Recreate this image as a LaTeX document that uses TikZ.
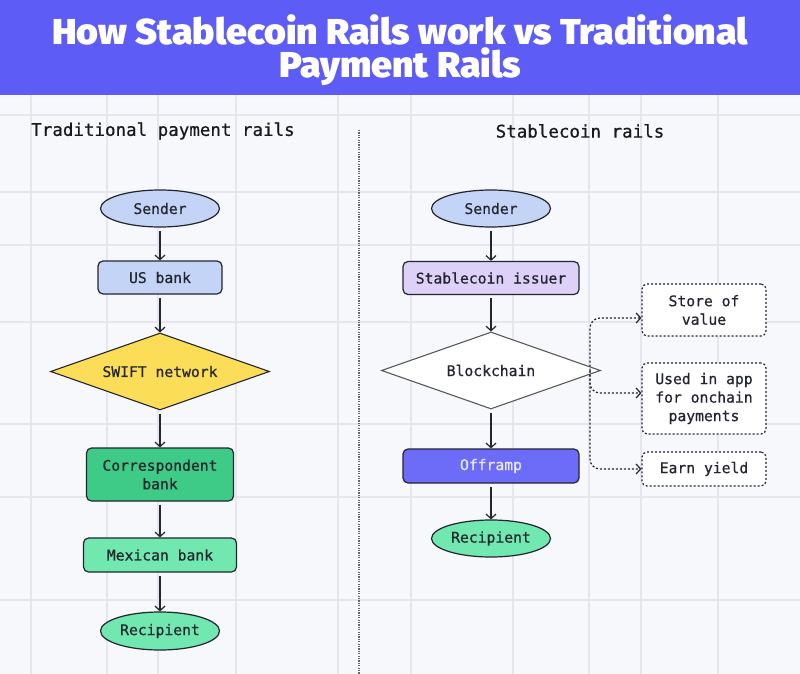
\documentclass[tikz,border=0pt]{standalone}
\usepackage{fontspec}
\usetikzlibrary{shapes.geometric,positioning,arrows.meta}
\setmonofont{DejaVu Sans Mono}[FakeBold=0.6]
\IfFontExistsTF{Fira Sans Black}{\newfontfamily\titlefont{Fira Sans Black}[FakeStretch=1.04]}{\newfontfamily\titlefont{Fira Sans}[UprightFont={* Bold}, FakeBold=1.5, FakeStretch=1.04]}
\definecolor{hdrblue}{HTML}{5E5CF6}
\definecolor{paper}{HTML}{F7F8FC}
\definecolor{gridgray}{HTML}{E6E7EE}
\definecolor{inkdark}{HTML}{23252F}
\definecolor{sendblue}{HTML}{C4D4F6}
\definecolor{issuerlilac}{HTML}{DDD1F8}
\definecolor{swiftyellow}{HTML}{FCDD58}
\definecolor{corrgreen}{HTML}{3ECB87}
\definecolor{mintgreen}{HTML}{70E8B0}
\definecolor{offblue}{HTML}{6D6CF8}
\definecolor{offtext}{HTML}{E8E9FF}
\begin{document}
\begin{tikzpicture}[x=1pt,y=-1pt,
		every node/.style={font=\ttfamily\fontsize{14.7}{18.5}\selectfont, text=inkdark},
		box/.style={draw=inkdark, line width=1.2pt, rounded corners=5pt, align=center, inner sep=0pt},
		oval/.style={ellipse, draw=inkdark, line width=1.2pt, minimum width=119pt, minimum height=37pt, inner sep=0pt},
		rhomb/.style={diamond, aspect=2.84, line width=1.1pt, minimum width=219pt, minimum height=77pt, inner sep=0pt},
		extra/.style={draw=inkdark, dash pattern=on 2pt off 2pt, line width=1.2pt, rounded corners=5pt, minimum width=124pt, fill=white, align=center, inner sep=0pt},
		flow/.style={-{Straight Barb[length=4.5pt,width=10pt]}, draw=inkdark, line width=1.2pt, shorten <=3pt},
		side/.style={-{Straight Barb[length=4.5pt,width=10pt]}, draw=inkdark, dash pattern=on 2pt off 2pt, line width=1.2pt, rounded corners=10pt},
		heading/.style={font=\ttfamily\fontsize{17.5}{20}\selectfont, text=black!90},
	]
		\useasboundingbox (0,0) rectangle (800,674);
		% background and grid
		\fill[paper] (0,0) rectangle (800,674);
		\foreach \gx in {31,107,158,236,338,411,513,589,641,718}
			\draw[gridgray, line width=2.2pt] (\gx,95) -- (\gx,674);
		\foreach \gy in {115,192,245,322,424,497,600}
			\draw[gridgray, line width=2.2pt] (0,\gy) -- (800,\gy);
		% header
		\fill[hdrblue] (0,0) rectangle (800,95);
		\node[font=\titlefont\fontsize{36}{33}\selectfont, text=white, align=center] (title) at (400,50) {How Stablecoin Rails work vs Traditional\\Payment Rails};
		\node[heading] (lefthead) at (163,131) {Traditional payment rails};
		\node[heading] (righthead) at (580,131) {Stablecoin rails};
		% divider
		\coordinate (divtop) at (359,130);
		\coordinate (divbot) at (359,674);
		\draw[black!60, line width=1.2pt, dash pattern=on 1.2pt off 1.2pt] (divtop) -- (divbot);
		% traditional rails
		\node[oval, fill=sendblue] (lsend) at (160,208.5) {Sender};
		\node[box, fill=sendblue, minimum width=124pt, minimum height=33pt] (usbank) at (160,277.5) {US bank};
		\node[rhomb, draw=inkdark, fill=swiftyellow] (swift) at (160,371.5) {SWIFT network};
		\node[box, fill=corrgreen, minimum width=147pt, minimum height=53pt] (corr) at (160,474.5) {Correspondent\\bank};
		\node[box, fill=mintgreen, minimum width=153pt, minimum height=34pt] (mexbank) at (160,555) {Mexican bank};
		\node[oval, fill=mintgreen, minimum height=38pt] (lrecip) at (160,631) {Recipient};
		\draw[flow] (lsend) -- (usbank);
		\draw[flow] (usbank) -- (swift);
		\draw[flow] (swift) -- (corr);
		\draw[flow] (corr) -- (mexbank);
		\draw[flow] (mexbank) -- (lrecip);
		% stablecoin rails
		\node[oval, fill=sendblue] (rsend) at (491,208.5) {Sender};
		\node[box, fill=issuerlilac, minimum width=176pt, minimum height=33pt] (issuer) at (491,278) {Stablecoin issuer};
		\node[rhomb, draw=black!65, fill=white] (chain) at (491,370.5) {Blockchain};
		\node[box, fill=offblue, text=offtext, minimum width=176pt, minimum height=34pt] (offramp) at (491,466) {Offramp};
		\node[oval, fill=mintgreen] (rrecip) at (491,538.5) {Recipient};
		\draw[flow] (rsend) -- (issuer);
		\draw[flow] (issuer) -- (chain);
		\draw[flow] (chain) -- (offramp);
		\draw[flow] (offramp) -- (rrecip);
		% uses of the stablecoin
		\node[extra, minimum height=52pt] (store) at (704,310) {Store of\\value};
		\node[extra, minimum height=71pt] (inapp) at (704,398.5) {Used in app\\for onchain\\payments};
		\node[extra, minimum height=34pt] (yield) at (704,469) {Earn yield};
		\coordinate (fork) at (590,370.5);
		\draw[side] (fork) |- ([yshift=-8pt]store.west);
		\draw[side] (fork) |- ([yshift=5.5pt]inapp.west);
		\draw[side] (fork) |- (yield.west);
	\end{tikzpicture}
\end{document}
